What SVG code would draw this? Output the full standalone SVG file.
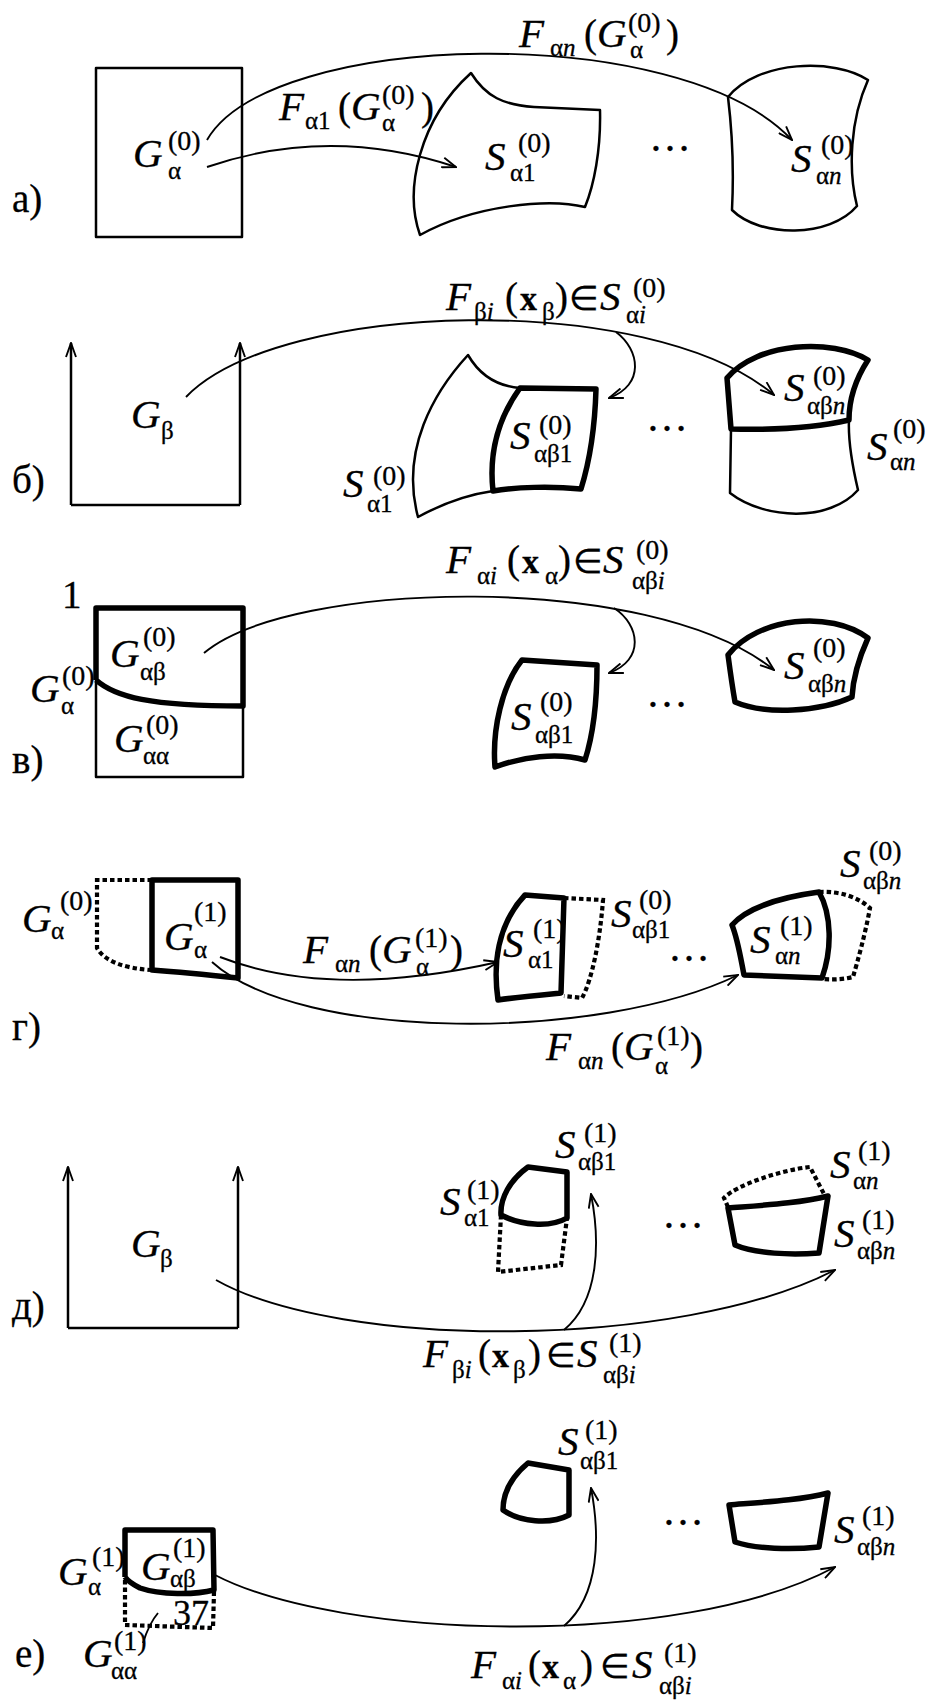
<svg xmlns="http://www.w3.org/2000/svg" width="931" height="1702" viewBox="0 0 931 1702">
<style>
text{font-family:"Liberation Serif","Times New Roman",serif;fill:#000;stroke:#000;stroke-width:0.3}
.it{font-style:italic;font-size:41px}
.rm{font-size:39px}
.op{font-size:34px}
.sp{font-size:28px}
.sb{font-size:25px}
.sbi{font-size:25px;font-style:italic}
.bx{font-size:34px;font-weight:bold}
.dots{font-size:42px}
.thin{fill:none;stroke:#000;stroke-width:2.5;stroke-linejoin:round}
.thick{fill:none;stroke:#000;stroke-width:5.5;stroke-linejoin:round}
.dash{fill:none;stroke:#000;stroke-width:4.2;stroke-dasharray:4.5 3}
.arr{fill:none;stroke:#000;stroke-width:1.9;marker-end:url(#ah)}
.ln{fill:none;stroke:#000;stroke-width:1.9}
</style>
<defs>
<marker id="ah" viewBox="0 0 16 12" refX="15" refY="6" markerWidth="16" markerHeight="12" markerUnits="userSpaceOnUse" orient="auto"><path d="M1,1 L15,6 L1,11" fill="none" stroke="#000" stroke-width="1.9"/></marker>
</defs>

<!-- ===== Panel a ===== -->
<g id="panel-a">
<text class="rm" x="12" y="212">a)</text>
<g id="a-G"><rect x="96" y="68" width="146" height="169" class="thin"/>
<text><tspan class="it" x="133" y="167">G</tspan><tspan class="sp" x="168" y="150">(0)</tspan><tspan class="sb" x="168" y="179">α</tspan></text></g>
<g id="a-S1"><path class="thin" d="M471,73 C486,97 504,105 534,107 L600,110 C601,150 594,185 585,207 C549,198 474,205 420,235 C404,190 419,120 471,73 Z"/>
<text><tspan class="it" x="485" y="170">S</tspan><tspan class="sp" x="518" y="152">(0)</tspan><tspan class="sb" x="510" y="181">α1</tspan></text></g>
<text id="a-dots" class="dots" x="649" y="151">…</text>
<g id="a-Sn"><path class="thin" d="M728,97 C758,60 835,58 868,80 C850,120 848,170 857,206 C830,238 760,238 732,210 C734,170 732,130 728,97 Z"/>
<text><tspan class="it" x="791" y="172">S</tspan><tspan class="sp" x="821" y="154">(0)</tspan><tspan class="sb" x="816" y="184">α</tspan><tspan class="sbi">n</tspan></text></g>
<text id="a-l1"><tspan class="it" x="279" y="120">F</tspan><tspan class="sb" x="305" y="129">α1</tspan><tspan class="rm" x="338" y="120">(</tspan><tspan class="it" x="351" y="120">G</tspan><tspan class="sp" x="382" y="104">(0)</tspan><tspan class="sb" x="382" y="131">α</tspan><tspan class="rm" x="421" y="120">)</tspan></text>
<text id="a-l2"><tspan class="it" x="519" y="47">F</tspan><tspan class="sb" x="550" y="56">α</tspan><tspan class="sbi">n</tspan><tspan class="rm" x="584" y="47">(</tspan><tspan class="it" x="597" y="47">G</tspan><tspan class="sp" x="628" y="32">(0)</tspan><tspan class="sb" x="630" y="58">α</tspan><tspan class="rm" x="666" y="47">)</tspan></text>
</g>

<!-- ===== Panel b ===== -->
<g id="panel-b">
<text class="rm" x="12" y="493">б)</text>
<g id="b-G"><path class="ln" d="M71,505 L240,505" style="stroke-width:2.5"/>
<text><tspan class="it" x="131" y="428">G</tspan><tspan class="sb" x="161" y="439">β</tspan></text></g>
<g id="b-S1"><path class="thin" d="M520,388 C495,386 479,374 468,355 C434,392 400,450 418,517 C440,505 465,495 493,491"/>
<path class="thick" d="M520,388 L596,389 C595,425 590,460 581,489 C551,486 516,487 493,491 C489,455 497,420 520,388 Z"/>
<text><tspan class="it" x="510" y="449">S</tspan><tspan class="sp" x="539" y="434">(0)</tspan><tspan class="sb" x="534" y="462">αβ1</tspan></text>
<text><tspan class="it" x="343" y="497">S</tspan><tspan class="sp" x="373" y="485">(0)</tspan><tspan class="sb" x="367" y="512">α1</tspan></text></g>
<text id="b-dots" class="dots" x="646" y="431">…</text>
<g id="b-Sn"><path class="thick" d="M731,429 L727,378 C757,342 832,338 868,360 C855,380 849,400 849,420 C815,428 770,430 731,429 Z"/>
<path class="thin" d="M731,429 L730,493 C765,520 830,522 858,490 C851,460 848,440 849,420"/>
<text><tspan class="it" x="784" y="401">S</tspan><tspan class="sp" x="813" y="385">(0)</tspan><tspan class="sb" x="807" y="414">αβ</tspan><tspan class="sbi">n</tspan></text>
<text><tspan class="it" x="867" y="460">S</tspan><tspan class="sp" x="893" y="438">(0)</tspan><tspan class="sb" x="890" y="470">α</tspan><tspan class="sbi">n</tspan></text></g>
<text id="b-l"><tspan class="it" x="446" y="310">F</tspan><tspan class="sb" x="474" y="320">β</tspan><tspan class="sbi">i</tspan><tspan class="rm" x="505" y="310">(</tspan><tspan class="bx" x="520" y="310">x</tspan><tspan class="sb" x="542" y="320">β</tspan><tspan class="rm" x="555" y="310">)</tspan><tspan class="op" x="569" y="310">∈</tspan><tspan class="it" x="600" y="310">S</tspan><tspan class="sp" x="633" y="297">(0)</tspan><tspan class="sb" x="626" y="323">α</tspan><tspan class="sbi">i</tspan></text>
</g>

<!-- ===== Panel v ===== -->
<g id="panel-v">
<text class="rm" x="12" y="773">в)</text>
<text class="rm" x="62" y="608">1</text>
<g id="v-G"><path class="thin" d="M96,680 L96,777 L243,777 L243,706"/>
<path class="thick" d="M96,680 L96,608 L243,608 L243,706 C150,706 115,697 96,680"/>
<text><tspan class="it" x="110" y="667">G</tspan><tspan class="sp" x="143" y="646">(0)</tspan><tspan class="sb" x="140" y="680">αβ</tspan></text>
<text><tspan class="it" x="114" y="752">G</tspan><tspan class="sp" x="146" y="734">(0)</tspan><tspan class="sb" x="143" y="764">αα</tspan></text>
<text><tspan class="it" x="30" y="702">G</tspan><tspan class="sp" x="62" y="685">(0)</tspan><tspan class="sb" x="61" y="714">α</tspan></text></g>
<g id="v-S1"><path class="thick" d="M522,660 L597,665 C597,700 593,735 585,760 C557,752 522,757 495,767 C492,730 502,685 522,660 Z"/>
<text><tspan class="it" x="511" y="730">S</tspan><tspan class="sp" x="540" y="711">(0)</tspan><tspan class="sb" x="535" y="743">αβ1</tspan></text></g>
<text id="v-dots" class="dots" x="646" y="707">…</text>
<g id="v-Sn"><path class="thick" d="M728,655 C758,617 830,610 868,638 C858,660 853,680 852,697 C820,712 765,715 735,702 C732,685 730,670 728,655 Z"/>
<text><tspan class="it" x="784" y="679">S</tspan><tspan class="sp" x="813" y="657">(0)</tspan><tspan class="sb" x="808" y="692">αβ</tspan><tspan class="sbi">n</tspan></text></g>
<text id="v-l"><tspan class="it" x="446" y="573">F</tspan><tspan class="sb" x="477" y="584">α</tspan><tspan class="sbi">i</tspan><tspan class="rm" x="507" y="573">(</tspan><tspan class="bx" x="522" y="573">x</tspan><tspan class="sb" x="545" y="584">α</tspan><tspan class="rm" x="558" y="573">)</tspan><tspan class="op" x="573" y="573">∈</tspan><tspan class="it" x="603" y="573">S</tspan><tspan class="sp" x="636" y="559">(0)</tspan><tspan class="sb" x="632" y="589">αβ</tspan><tspan class="sbi">i</tspan></text>
</g>

<!-- ===== Panel g ===== -->
<g id="panel-g">
<text class="rm" x="12" y="1040">г)</text>
<g id="g-G"><path class="dash" d="M152,880 L97,880 L97,948 C105,962 125,968 150,970"/>
<path class="thick" d="M152,880 L238,880 L238,978 C210,975 180,972 152,970 Z"/>
<text><tspan class="it" x="164" y="950">G</tspan><tspan class="sp" x="194" y="921">(1)</tspan><tspan class="sb" x="194" y="958">α</tspan></text>
<text><tspan class="it" x="22" y="932">G</tspan><tspan class="sp" x="60" y="910">(0)</tspan><tspan class="sb" x="51" y="939">α</tspan></text></g>
<g id="g-S1"><path class="thick" d="M525,895 L564,898 L561,993 C540,995 518,997 498,1000 C493,965 497,925 525,895 Z"/>
<path class="dash" d="M564,898 L603,900 C600,940 592,980 582,998 L564,996"/>
<text><tspan class="it" x="503" y="957">S</tspan><tspan class="sp" x="533" y="938">(1)</tspan><tspan class="sb" x="528" y="968">α1</tspan></text>
<text><tspan class="it" x="611" y="927">S</tspan><tspan class="sp" x="639" y="909">(0)</tspan><tspan class="sb" x="632" y="938">αβ1</tspan></text></g>
<text id="g-dots" class="dots" x="668" y="961">…</text>
<g id="g-Sn"><path class="thick" d="M732,925 C745,910 775,898 819,892 C832,915 832,950 822,978 L744,975 C741,960 738,940 732,925 Z"/>
<path class="dash" d="M819,892 C840,891 858,897 870,908 C865,935 858,960 853,977 C845,979 835,980 822,979"/>
<text><tspan class="it" x="750" y="953">S</tspan><tspan class="sp" x="780" y="935">(1)</tspan><tspan class="sb" x="775" y="964">α</tspan><tspan class="sbi">n</tspan></text>
<text><tspan class="it" x="840" y="877">S</tspan><tspan class="sp" x="869" y="860">(0)</tspan><tspan class="sb" x="863" y="889">αβ</tspan><tspan class="sbi">n</tspan></text></g>
<text id="g-l1"><tspan class="it" x="303" y="963">F</tspan><tspan class="sb" x="335" y="972">α</tspan><tspan class="sbi">n</tspan><tspan class="rm" x="369" y="963">(</tspan><tspan class="it" x="382" y="963">G</tspan><tspan class="sp" x="415" y="947">(1)</tspan><tspan class="sb" x="416" y="975">α</tspan><tspan class="rm" x="450" y="963">)</tspan></text>
<text id="g-l2"><tspan class="it" x="546" y="1060">F</tspan><tspan class="sb" x="578" y="1069">α</tspan><tspan class="sbi">n</tspan><tspan class="rm" x="611" y="1060">(</tspan><tspan class="it" x="624" y="1060">G</tspan><tspan class="sp" x="657" y="1045">(1)</tspan><tspan class="sb" x="655" y="1074">α</tspan><tspan class="rm" x="690" y="1060">)</tspan></text>
</g>

<!-- ===== Panel d ===== -->
<g id="panel-d">
<text class="rm" x="12" y="1319">д)</text>
<g id="d-G"><path class="ln" d="M68,1328 L238,1328" style="stroke-width:2.5"/>
<text><tspan class="it" x="131" y="1257">G</tspan><tspan class="sb" x="160" y="1267">β</tspan></text></g>
<g id="d-S1"><path class="thick" d="M528,1167 L567,1172 L567,1218 C550,1228 520,1225 501,1215 C500,1198 510,1180 528,1167 Z"/>
<path class="dash" d="M501,1215 L498,1272 L561,1265 L567,1218"/>
<text><tspan class="it" x="440" y="1215">S</tspan><tspan class="sp" x="467" y="1199">(1)</tspan><tspan class="sb" x="464" y="1226">α1</tspan></text>
<text><tspan class="it" x="555" y="1158">S</tspan><tspan class="sp" x="584" y="1142">(1)</tspan><tspan class="sb" x="578" y="1170">αβ1</tspan></text></g>
<text id="d-dots" class="dots" x="662" y="1228">…</text>
<g id="d-Sn"><path class="thick" d="M728,1208 C766,1205 801,1203 828,1196 L819,1253 C791,1255 756,1254 735,1245 Z"/>
<path class="dash" d="M728,1207 L724,1198 C736,1185 781,1170 810,1167 L825,1196"/>
<text><tspan class="it" x="830" y="1178">S</tspan><tspan class="sp" x="858" y="1160">(1)</tspan><tspan class="sb" x="853" y="1189">α</tspan><tspan class="sbi">n</tspan></text>
<text><tspan class="it" x="834" y="1247">S</tspan><tspan class="sp" x="862" y="1229">(1)</tspan><tspan class="sb" x="857" y="1259">αβ</tspan><tspan class="sbi">n</tspan></text></g>
<text id="d-l"><tspan class="it" x="423" y="1367">F</tspan><tspan class="sb" x="452" y="1378">β</tspan><tspan class="sbi">i</tspan><tspan class="rm" x="478" y="1367">(</tspan><tspan class="bx" x="492" y="1367">x</tspan><tspan class="sb" x="513" y="1378">β</tspan><tspan class="rm" x="528" y="1367">)</tspan><tspan class="op" x="546" y="1367">∈</tspan><tspan class="it" x="577" y="1367">S</tspan><tspan class="sp" x="609" y="1352">(1)</tspan><tspan class="sb" x="603" y="1383">αβ</tspan><tspan class="sbi">i</tspan></text>
</g>

<!-- ===== Panel e ===== -->
<g id="panel-e">
<text class="rm" x="15" y="1667">е)</text>
<g id="e-G"><path class="thick" d="M125,1577 L125,1530 L213,1530 L214,1590 C195,1595 160,1595 140,1588 C132,1584 127,1580 125,1577"/>
<path class="dash" d="M125,1580 L125,1625 L213,1628 L214,1592"/>
<text x="173" y="1625" style="font-size:36px">37</text>
<path class="ln" d="M143,1643 C147,1630 152,1620 158,1613"/>
<text><tspan class="it" x="58" y="1585">G</tspan><tspan class="sp" x="92" y="1566">(1)</tspan><tspan class="sb" x="88" y="1595">α</tspan></text>
<text><tspan class="it" x="141" y="1580">G</tspan><tspan class="sp" x="173" y="1557">(1)</tspan><tspan class="sb" x="170" y="1587">αβ</tspan></text>
<text><tspan class="it" x="83" y="1667">G</tspan><tspan class="sp" x="114" y="1650">(1)</tspan><tspan class="sb" x="111" y="1679">αα</tspan></text></g>
<g id="e-S1"><path class="thick" d="M528,1463 L569,1470 L569,1515 C550,1525 520,1522 503,1510 C503,1495 510,1478 528,1463 Z"/>
<text><tspan class="it" x="558" y="1455">S</tspan><tspan class="sp" x="585" y="1439">(1)</tspan><tspan class="sb" x="580" y="1469">αβ1</tspan></text></g>
<text id="e-dots" class="dots" x="662" y="1525">…</text>
<g id="e-Sn"><path class="thick" d="M729,1505 C766,1502 801,1500 828,1493 L819,1547 C791,1550 756,1549 735,1542 Z"/>
<text><tspan class="it" x="834" y="1543">S</tspan><tspan class="sp" x="862" y="1525">(1)</tspan><tspan class="sb" x="857" y="1555">αβ</tspan><tspan class="sbi">n</tspan></text></g>
<text id="e-l"><tspan class="it" x="471" y="1678">F</tspan><tspan class="sb" x="502" y="1689">α</tspan><tspan class="sbi">i</tspan><tspan class="rm" x="528" y="1678">(</tspan><tspan class="bx" x="542" y="1678">x</tspan><tspan class="sb" x="563" y="1689">α</tspan><tspan class="rm" x="580" y="1678">)</tspan><tspan class="op" x="600" y="1678">∈</tspan><tspan class="it" x="632" y="1678">S</tspan><tspan class="sp" x="664" y="1662">(1)</tspan><tspan class="sb" x="659" y="1694">αβ</tspan><tspan class="sbi">i</tspan></text>
</g>

<!-- ===== Connectors ===== -->
<g id="connectors">
<path class="arr" d="M207,167 Q330,125 456,167"/>
<path class="arr" d="M207,140 C270,30 680,20 792,140"/>
<path class="arr" style="stroke-width:2.5" d="M71,505 L71,343"/>
<path class="arr" style="stroke-width:2.5" d="M240,505 L240,343"/>
<path class="arr" d="M186,397 C280,300 650,290 774,395"/>
<path class="arr" d="M616,332 C640,350 645,385 609,398"/>
<path class="arr" d="M204,653 C290,580 650,570 774,670"/>
<path class="arr" d="M614,608 C640,625 645,660 609,673"/>
<path class="arr" d="M220,957 Q330,1000 498,962"/>
<path class="arr" d="M212,962 C300,1042 600,1042 738,975"/>
<path class="arr" style="stroke-width:2.5" d="M68,1328 L68,1167"/>
<path class="arr" style="stroke-width:2.5" d="M238,1328 L238,1167"/>
<path class="arr" d="M216,1280 C340,1350 680,1350 835,1270"/>
<path class="arr" d="M564,1330 C600,1300 600,1240 591,1194"/>
<path class="arr" d="M215,1575 C340,1640 680,1650 835,1567"/>
<path class="arr" d="M564,1626 C600,1595 600,1535 591,1488"/>
</g>
</svg>
